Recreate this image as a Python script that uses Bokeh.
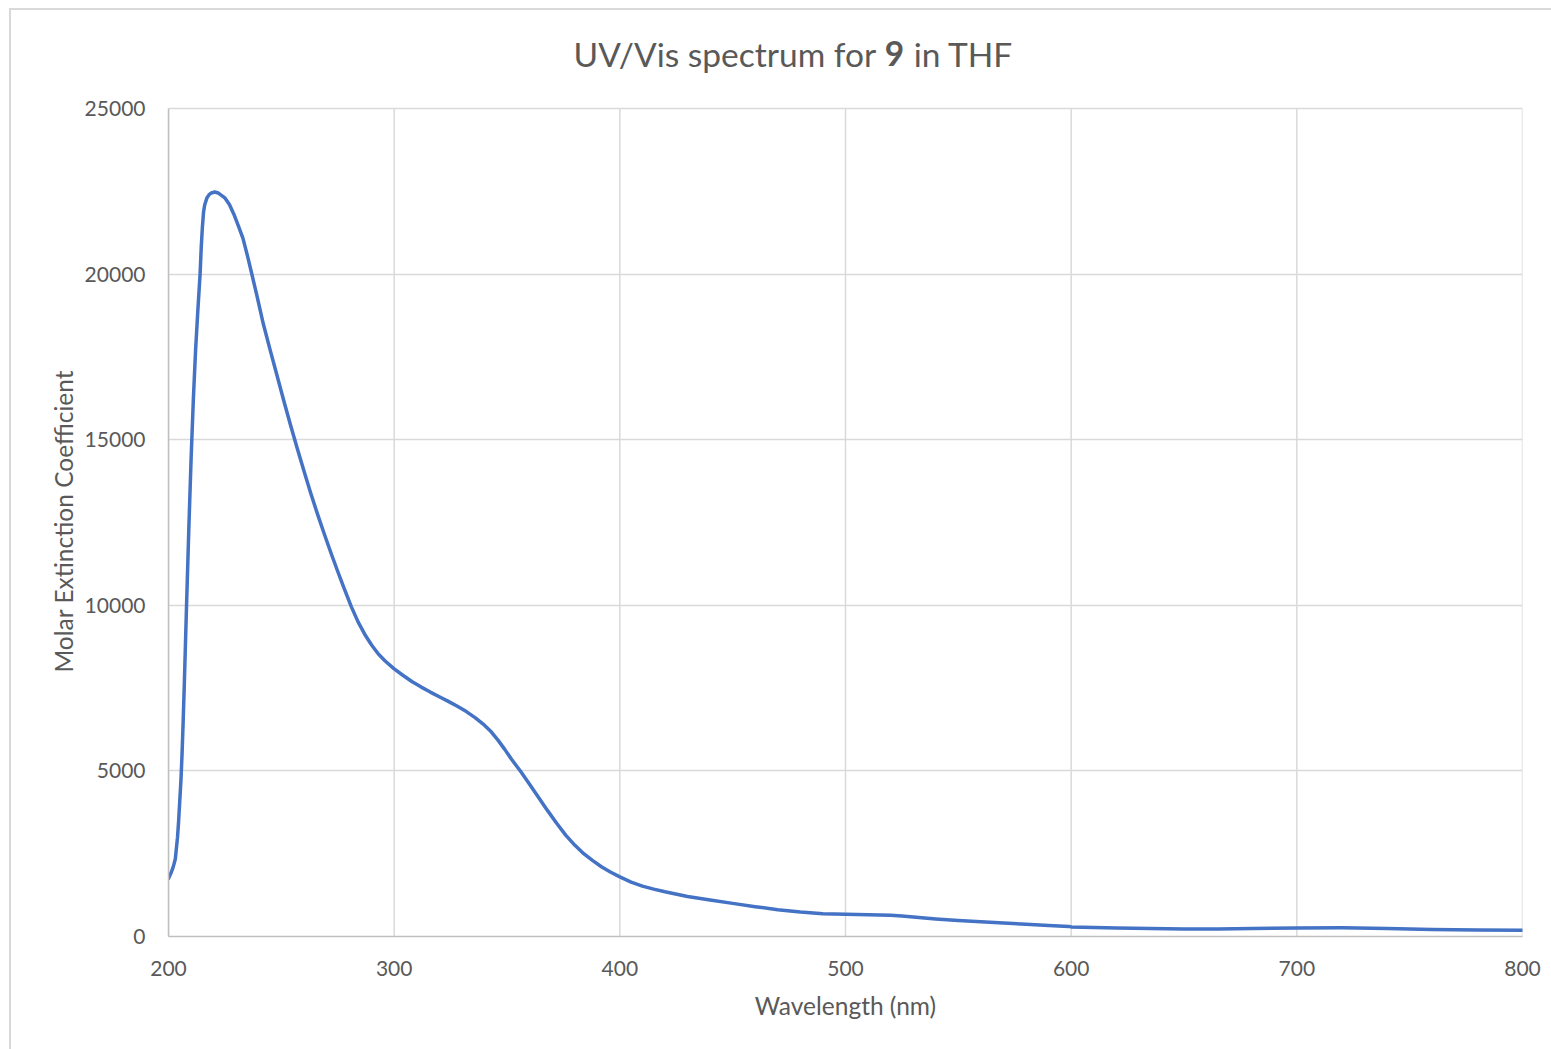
from bokeh.plotting import figure
from bokeh.models import Range1d, Label, FixedTicker, Title
from bokeh.embed import file_html
from bokeh.resources import INLINE

# Absorption spectrum: wavelength (nm) and molar extinction coefficient
wavelength = [200, 201, 202, 203, 204, 204.5, 205, 205.5, 206, 206.5, 207, 207.5,
              208, 209, 210, 211, 212, 213, 214, 214.5, 215, 215.5, 216, 217, 218,
              219, 220.5, 222, 223, 225, 227, 229, 231, 233, 235, 237, 239, 242,
              245, 248, 251, 254, 257, 260, 263, 266, 269, 272, 275, 278, 281,
              284, 287, 290, 293, 296, 300, 304, 308, 312, 316, 320, 324, 328,
              332, 336, 340, 343, 346, 349, 352, 356, 360, 364, 368, 372, 376,
              380, 384, 388, 392, 396, 400, 405, 410, 415, 420, 430, 440, 450,
              460, 470, 480, 490, 500, 510, 520, 525, 530, 540, 550, 560, 570,
              580, 590, 599, 600, 610, 620, 635, 650, 665, 680, 700, 720, 740,
              760, 780, 800]
epsilon = [1750, 1900, 2080, 2330, 3000, 3500, 4100, 4700, 5500, 6500, 7600, 8800,
           10000, 12300, 14400, 16200, 17700, 18900, 20000, 20800, 21400, 21850,
           22080, 22300, 22400, 22450, 22480, 22450, 22400, 22300, 22100, 21800,
           21450, 21080, 20550, 19980, 19400, 18500, 17720, 16960, 16200, 15460,
           14750, 14060, 13390, 12760, 12160, 11580, 11020, 10480, 9960, 9500,
           9120, 8800, 8530, 8320, 8080, 7880, 7690, 7530, 7380, 7240, 7100, 6950,
           6790, 6600, 6380, 6180, 5930, 5650, 5350, 4990, 4600, 4200, 3800, 3420,
           3060, 2760, 2500, 2290, 2100, 1940, 1800, 1640, 1520, 1430, 1350, 1210,
           1100, 1000, 900, 810, 740, 690, 670, 660, 640, 620, 590, 530, 485, 445,
           405, 370, 335, 305, 290, 275, 260, 245, 230, 230, 240, 260, 265, 245,
           215, 200, 185]

x_ticks = [200, 300, 400, 500, 600, 700, 800]
y_ticks = [0, 5000, 10000, 15000, 20000, 25000]
y_max = 25000

FONT = "Lato"
TEXT = "#595959"
GRID = "#D9D9D9"

# The frame reaches up to hold the title; grid and axis stop at y_max
y_top = y_max * 916 / 828
p = figure(width=1540, height=1039, output_backend="svg", toolbar_location=None,
           x_range=Range1d(200, 800), y_range=Range1d(0, y_top),
           min_border_left=157, min_border_right=29,
           min_border_top=10, min_border_bottom=113)
p.styles = {"margin-left": "11px", "margin-top": "10px",
            "outline": "2px solid #D9D9D9"}

p.outline_line_color = None
p.background_fill_color = "white"
p.border_fill_color = "white"

# Vertical grid lines, limited to the value range
p.segment(x0=x_ticks, y0=[0] * len(x_ticks), x1=x_ticks, y1=[y_max] * len(x_ticks),
          line_color=GRID, line_width=1.5)

p.line(wavelength, epsilon, line_color="#4472C4", line_width=3.5,
       line_join="round", line_cap="round")

for ax in (p.xaxis[0], p.yaxis[0]):
    ax.axis_line_color = "#BFBFBF"
    ax.axis_line_width = 1.5
    ax.major_tick_line_color = None
    ax.minor_tick_line_color = None
    ax.major_label_text_font = FONT
    ax.major_label_text_font_size = "21px"
    ax.major_label_text_color = TEXT
    ax.axis_label_text_font = FONT
    ax.axis_label_text_font_size = "24.5px"
    ax.axis_label_text_color = TEXT
    ax.axis_label_text_font_style = "normal"

p.xaxis.ticker = FixedTicker(ticks=x_ticks)
p.yaxis.ticker = FixedTicker(ticks=y_ticks)
p.yaxis.bounds = (0, y_max)
p.xaxis.axis_label = "Wavelength (nm)"
p.xaxis.major_label_standoff = 18
p.yaxis.major_label_standoff = 17
p.xaxis.axis_label_standoff = 12

p.xgrid.grid_line_color = None
p.ygrid.grid_line_color = GRID
p.ygrid.grid_line_width = 1.5

# Vertical axis title, placed along the 0..y_max span
p.add_layout(Title(text="Molar Extinction Coefficient", align="left", offset=264,
                   text_font=FONT, text_font_size="24.5px", text_color=TEXT,
                   text_font_style="normal", standoff=8), "left")

# Chart title with the compound number in bold
ty = 26660
common = dict(y=ty, text_font=FONT, text_font_size="33.5px", text_color=TEXT,
              text_baseline="alphabetic")
p.add_layout(Label(x=517.4, text="UV/Vis spectrum for ", text_align="right", **common))
p.add_layout(Label(x=517.4, text="9", text_align="left", text_font_style="bold", **common))
p.add_layout(Label(x=530.2, text="in THF", text_align="left", **common))

open("out.html", "w").write(file_html(p, INLINE))
